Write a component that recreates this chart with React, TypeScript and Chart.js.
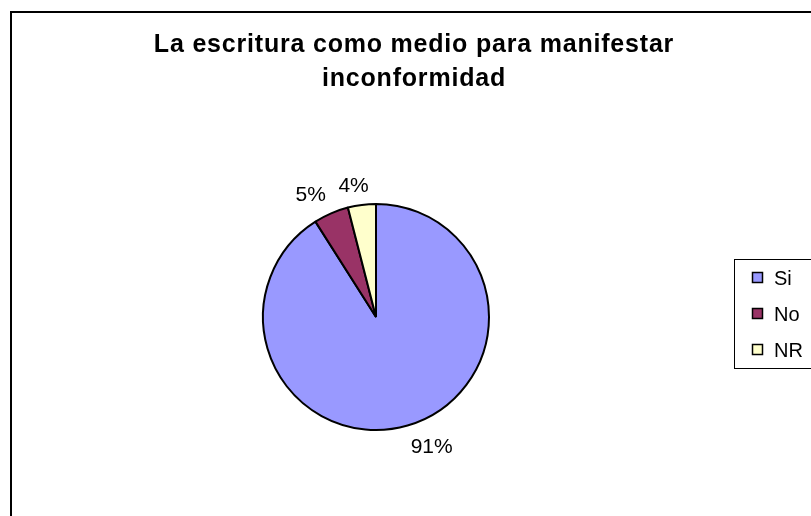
import React, { useEffect, useRef } from "react";
import { Chart, registerables } from "chart.js";

Chart.register(...registerables);

const TITLE_LINES = ["La escritura como medio para manifestar", "inconformidad"];
const CATEGORIES = ["Si", "No", "NR"];
const VALUES = [91, 5, 4];
const COLORS = ["#9999FF", "#993366", "#FFFFCC"];

const FONT = "'Liberation Sans', Arial, sans-serif";

const clamp = (v: number) => Math.max(-1, Math.min(1, v));

const decorPlugin = {
  id: "decor",
  beforeDraw(chart: any) {
    const ctx = chart.ctx as CanvasRenderingContext2D;
    ctx.save();
    ctx.fillStyle = "#FFFFFF";
    ctx.fillRect(0, 0, chart.width, chart.height);
    // outer frame
    ctx.strokeStyle = "#000000";
    ctx.lineWidth = 2;
    ctx.strokeRect(11, 12, 806, 600);
    // title
    ctx.fillStyle = "#000000";
    ctx.font = `bold 25px ${FONT}`;
    (ctx as any).letterSpacing = "0.8px";
    ctx.textAlign = "center";
    ctx.textBaseline = "alphabetic";
    ctx.fillText(TITLE_LINES[0], 414, 52);
    ctx.fillText(TITLE_LINES[1], 414, 86);
    (ctx as any).letterSpacing = "0px";
    ctx.restore();
  },
  afterDatasetsDraw(chart: any) {
    const ctx = chart.ctx as CanvasRenderingContext2D;
    const meta = chart.getDatasetMeta(0);
    const data = chart.data.datasets[0].data as number[];
    const total = data.reduce((a, b) => a + b, 0);
    ctx.save();
    ctx.fillStyle = "#000000";
    ctx.font = `21px ${FONT}`;
    ctx.textAlign = "center";
    ctx.textBaseline = "alphabetic";
    const h = 15;
    meta.data.forEach((arc: any, i: number) => {
      const p = arc.getProps(["x", "y", "startAngle", "endAngle", "outerRadius"], true);
      const mid = (p.startAngle + p.endAngle) / 2;
      const cos = Math.cos(mid);
      const sin = Math.sin(mid);
      const r = p.outerRadius + 13;
      const px = p.x + r * cos;
      const py = p.y + r * sin;
      const text = `${Math.round((data[i] / total) * 100)}%`;
      const w = ctx.measureText(text).width;
      const cx = px + clamp(3.5 * cos) * (w / 2);
      const cy = py + clamp(3.5 * sin) * (h / 2);
      ctx.fillText(text, cx, cy + h / 2);
    });

    // legend
    const labels = chart.data.labels as string[];
    const colors = chart.data.datasets[0].backgroundColor as string[];
    ctx.strokeStyle = "#000000";
    ctx.lineWidth = 1;
    ctx.strokeRect(734.5, 259.5, 120, 109);
    ctx.font = `20px ${FONT}`;
    ctx.textAlign = "left";
    labels.forEach((lab, i) => {
      const top = 272 + i * 36;
      ctx.fillStyle = colors[i];
      ctx.fillRect(752, top, 11, 11);
      ctx.lineWidth = 1.5;
      ctx.strokeStyle = "#000000";
      ctx.strokeRect(752.5, top + 0.5, 10, 10);
      ctx.fillStyle = "#000000";
      ctx.fillText(lab, 774, top + 5.5 + 7);
    });
    ctx.restore();
  },
};

export default function App() {
  const ref = useRef<HTMLCanvasElement | null>(null);
  useEffect(() => {
    if (!ref.current) return;
    const chart = new Chart(ref.current, {
      type: "pie",
      data: {
        labels: CATEGORIES,
        datasets: [
          {
            data: VALUES,
            backgroundColor: COLORS,
            borderColor: "#000000",
            borderWidth: 2,
          },
        ],
      },
      options: {
        responsive: false,
        animation: false,
        devicePixelRatio: 1,
        layout: { padding: { top: 203, bottom: 85, left: 0, right: 59 } },
        plugins: {
          legend: { display: false },
          title: { display: false },
          tooltip: { enabled: false },
        },
      },
      plugins: [decorPlugin],
    });
    return () => chart.destroy();
  }, []);
  return (
    <div style={{ position: "absolute", left: 0, top: 0, width: 811, height: 516, overflow: "hidden" }}>
      <canvas ref={ref} width={811} height={516} style={{ width: 811, height: 516, display: "block" }} />
    </div>
  );
}
